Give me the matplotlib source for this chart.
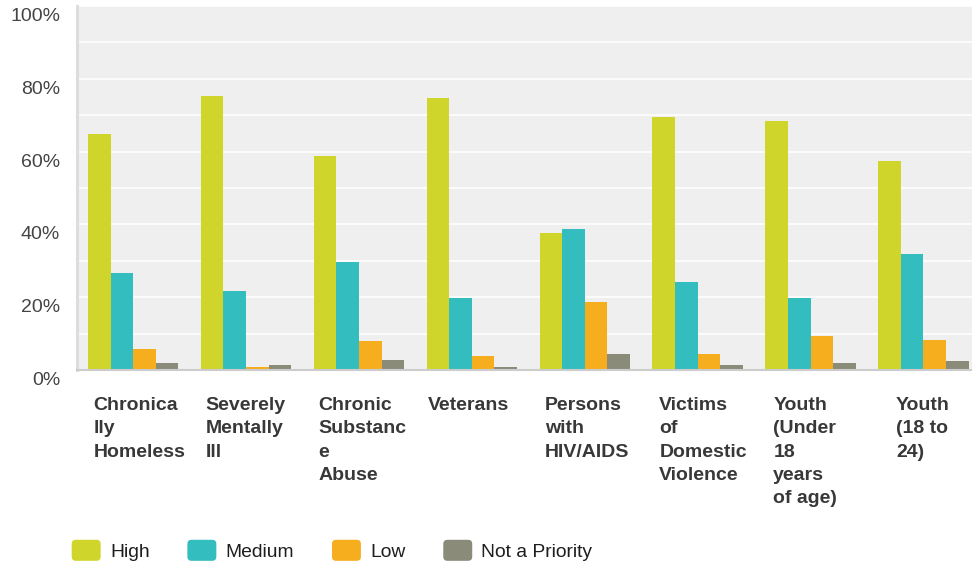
import matplotlib
matplotlib.use("Agg")
import matplotlib.pyplot as plt
from matplotlib.patches import Patch, FancyBboxPatch
from matplotlib.legend_handler import HandlerPatch
from matplotlib.transforms import ScaledTranslation, blended_transform_factory

# ========================================
# Data
# ========================================

categories = ["Chronica\nlly\nHomeless", "Severely\nMentally\nIll", "Chronic\nSubstanc\ne\nAbuse",
              "Veterans", "Persons\nwith\nHIV/AIDS", "Victims\nof\nDomestic\nViolence",
              "Youth\n(Under\n18\nyears\nof age)", "Youth\n(18 to\n24)"]
series_names = ["High", "Medium", "Low", "Not a Priority"]
high = [64.7, 75.2, 58.7, 74.6, 37.7, 69.4, 68.3, 57.3]
medium = [26.7, 21.8, 29.8, 19.8, 38.8, 24.2, 19.8, 32.0]
low = [5.8, 0.8, 8.0, 3.9, 18.7, 4.4, 9.4, 8.3]
not_priority = [1.9, 1.4, 2.8, 0.8, 4.4, 1.4, 1.9, 2.5]
y_ticks = [0, 20, 40, 60, 80, 100]
y_tick_labels = ["0%", "20%", "40%", "60%", "80%", "100%"]

# ========================================
# Style / layout
# ========================================

COLORS = ["#cfd52a", "#33bdbf", "#f6ae1e", "#8b8b7a"]
BAR_W = 0.2
# left edge of each category label, relative to the category centre
LABEL_OFFSETS = [-0.353, -0.357, -0.360, -0.386, -0.352, -0.340, -0.330, -0.243]

plt.rcParams['font.family'] = ['Liberation Sans', 'DejaVu Sans']

fig = plt.figure(figsize=(9.72, 5.62), dpi=100)
W, H = 972, 562
ax = fig.add_axes([76.7 / W, (H - 370) / H, 903.2 / W, 364 / H])
ax.set_facecolor("#efefef")

values = [high, medium, low, not_priority]
x = list(range(len(categories)))
for k, (vals, color) in enumerate(zip(values, COLORS)):
    pos = [i + (k - 1.5) * BAR_W for i in x]
    ax.bar(pos, vals, width=BAR_W, color=color, label=series_names[k], zorder=2)

ax.set_xlim(-0.5, len(categories) - 0.5)
ax.set_ylim(0, 100)
ax.set_xticks([])
ax.set_yticks(y_ticks)
ax.set_yticklabels(y_tick_labels)
ax.set_yticks([10, 30, 50, 70, 90], minor=True)
ax.yaxis.grid(True, which='both', color='white', linewidth=1.1)
ax.set_axisbelow(True)
ax.tick_params(axis='y', which='both', length=0, pad=12, labelsize=14, labelcolor="#444444")

for s in ['top', 'right']:
    ax.spines[s].set_visible(False)
ax.spines['left'].set_color("#dddddd")
ax.spines['left'].set_linewidth(2.2)
ax.spines['bottom'].set_color("#cccccc")
ax.spines['bottom'].set_linewidth(1.5)
ax.spines['bottom'].set_zorder(3)

# y labels sit a little below their gridlines
shift = ScaledTranslation(0, -8.5 / 100, fig.dpi_scale_trans)
for lbl in ax.get_yticklabels():
    lbl.set_transform(lbl.get_transform() + shift)

# category labels under the axis
lab_tr = blended_transform_factory(ax.transData, ax.transAxes) + \
    ScaledTranslation(0, -27 / 100, fig.dpi_scale_trans)
for i, (name, off) in enumerate(zip(categories, LABEL_OFFSETS)):
    ax.text(i + off, 0, name, transform=lab_tr, ha='left', va='top',
            fontsize=14, fontweight='bold', color="#383838", linespacing=1.49)

# legend with rounded squares
def rounded_square(legend, orig_handle, xdescent, ydescent, width, height, fontsize):
    return FancyBboxPatch((-xdescent, -ydescent), width, height,
                          boxstyle="round,pad=0,rounding_size=3")

handles = [Patch(facecolor=c, edgecolor='none') for c in COLORS]
fig.legend(handles, series_names, loc='center left',
           bbox_to_anchor=(71.7 / W, 1 - 550.3 / H), ncol=4, frameon=False,
           fontsize=13.9, handlelength=1.5, handleheight=1.3, handletextpad=0.48,
           columnspacing=1.96, borderpad=0, borderaxespad=0, labelcolor="#1e1e1e",
           handler_map={Patch: HandlerPatch(patch_func=rounded_square)})

fig.savefig("out.png", dpi=100)
